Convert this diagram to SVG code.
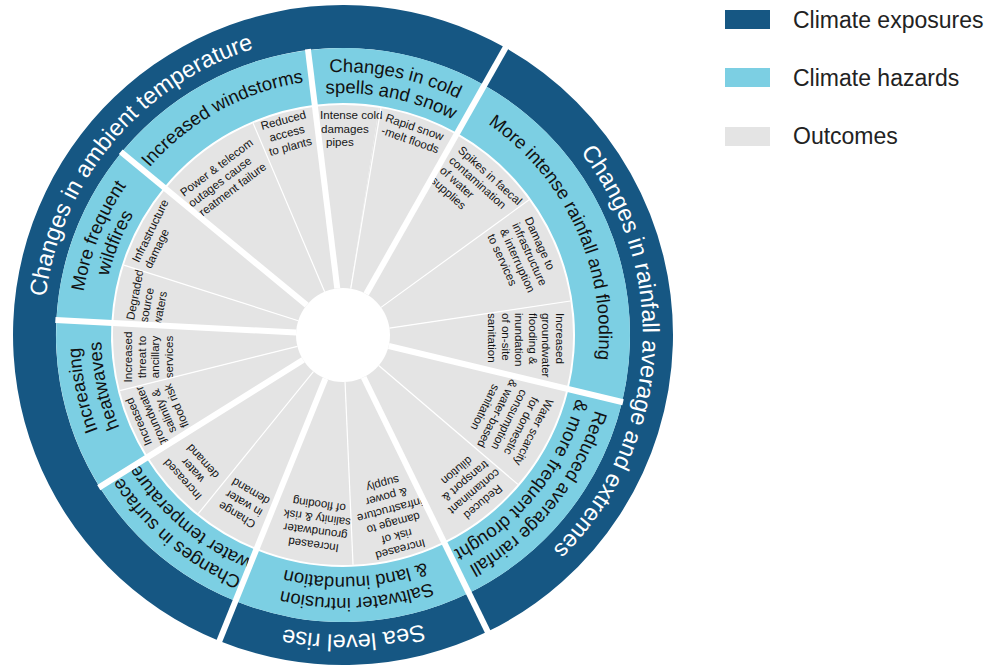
<svg xmlns="http://www.w3.org/2000/svg" width="1002" height="667" viewBox="0 0 1002 667">
  <defs>
    <style>
      .exp { fill: #165783; }
      .haz { fill: #7ccfe3; }
      .out { fill: #e4e4e4; }
      text { font-family: "Liberation Sans", Arial, sans-serif; }
      .lbl-exp { fill: #ffffff; font-size: 23.5px; }
      .lbl-haz { fill: #111111; font-size: 18.5px; }
      .lbl-out { fill: #151515; font-size: 11.6px; }
      .sep-thick { stroke: #ffffff; stroke-width: 6; }
      .sep-thin { stroke: #ffffff; stroke-width: 1.2; }
      .legend-text { fill: #222222; font-size: 23px; }
    </style>
    <!-- baseline arcs centred on 12 o'clock; labels are rotated into place -->
    <path id="arc300" d="M43.05,329.76 A300,300 0 0 1 642.95,329.76"/>
    <path id="arc256" d="M87.04,330.53 A256,256 0 0 1 598.96,330.53"/>
    <path id="arc263" d="M80.04,330.41 A263,263 0 0 1 605.96,330.41"/>
    <path id="arc242" d="M101.04,330.78 A242,242 0 0 1 584.96,330.78"/>
    <line id="cut-exp" x1="343" y1="288" x2="343" y2="3"/>
    <line id="cut-haz" x1="343" y1="288" x2="343" y2="47"/>
    <line id="cut-out" x1="343" y1="288" x2="343" y2="105"/>
  </defs>

  <rect width="1002" height="667" fill="#ffffff"/>

  <!-- outer ring: climate exposures -->
  <g id="exposure-ambient-temperature">
    <path class="exp" d="M219.38,640.97 A330,330 0 1 1 505.50,47.78 L484.32,85.21 A287,287 0 1 0 235.49,601.10 Z"/>
    <text class="lbl-exp" transform="rotate(310 343 335)" text-anchor="middle"><textPath href="#arc300" startOffset="50%">Changes in ambient temperature</textPath></text>
  </g>
  <g id="exposure-rainfall">
    <path class="exp" d="M505.50,47.78 A330,330 0 0 1 487.66,631.60 L468.81,592.95 A287,287 0 0 0 484.32,85.21 Z"/>
    <text class="lbl-exp" transform="rotate(94 343 335)" text-anchor="middle"><textPath href="#arc300" startOffset="50%">Changes in rainfall average and extremes</textPath></text>
  </g>
  <g id="exposure-sea-level">
    <path class="exp" d="M487.66,631.60 A330,330 0 0 1 219.38,640.97 L235.49,601.10 A287,287 0 0 0 468.81,592.95 Z"/>
    <text class="lbl-exp" transform="rotate(178 343 335)" text-anchor="middle"><textPath href="#arc300" startOffset="50%">Sea level rise</textPath></text>
  </g>

  <!-- middle ring: climate hazards -->
  <g id="hazard-windstorms">
    <path class="haz" d="M121.55,152.45 A287,287 0 0 1 308.02,50.14 L314.73,104.73 A232,232 0 0 0 163.98,187.43 Z"/>
    <text class="lbl-haz" transform="rotate(331 343 335)" text-anchor="middle"><textPath href="#arc256" startOffset="50%">Increased windstorms</textPath></text>
  </g>
  <g id="hazard-cold-spells">
    <path class="haz" d="M308.02,50.14 A287,287 0 0 1 484.32,85.21 L457.24,133.08 A232,232 0 0 0 314.73,104.73 Z"/>
    <text class="lbl-haz" transform="rotate(11.5 343 335)" text-anchor="middle"><textPath href="#arc263" startOffset="50%">Changes in cold</textPath></text>
    <text class="lbl-haz" transform="rotate(11.5 343 335)" text-anchor="middle"><textPath href="#arc242" startOffset="50%">spells and snow</textPath></text>
  </g>
  <g id="hazard-intense-rainfall">
    <path class="haz" d="M484.32,85.21 A287,287 0 0 1 622.07,402.00 L568.59,389.16 A232,232 0 0 0 457.24,133.08 Z"/>
    <text class="lbl-haz" transform="rotate(65 343 335)" text-anchor="middle"><textPath href="#arc256" startOffset="50%">More intense rainfall and flooding</textPath></text>
  </g>
  <g id="hazard-drought">
    <path class="haz" d="M622.07,402.00 A287,287 0 0 1 468.81,592.95 L444.70,543.52 A232,232 0 0 0 568.59,389.16 Z"/>
    <text class="lbl-haz" transform="rotate(129 343 335)" text-anchor="middle"><textPath href="#arc263" startOffset="50%">Reduced average rainfall</textPath></text>
    <text class="lbl-haz" transform="rotate(129 343 335)" text-anchor="middle"><textPath href="#arc242" startOffset="50%">&amp; more frequent drought</textPath></text>
  </g>
  <g id="hazard-saltwater">
    <path class="haz" d="M468.81,592.95 A287,287 0 0 1 235.49,601.10 L256.09,550.11 A232,232 0 0 0 444.70,543.52 Z"/>
    <text class="lbl-haz" transform="rotate(177 343 335)" text-anchor="middle"><textPath href="#arc263" startOffset="50%">Saltwater intrusion</textPath></text>
    <text class="lbl-haz" transform="rotate(177 343 335)" text-anchor="middle"><textPath href="#arc242" startOffset="50%">&amp; land inundation</textPath></text>
  </g>
  <g id="hazard-surface-water">
    <path class="haz" d="M235.49,601.10 A287,287 0 0 1 99.61,487.09 L146.25,457.94 A232,232 0 0 0 256.09,550.11 Z"/>
    <text class="lbl-haz" transform="rotate(220 343 335)" text-anchor="middle"><textPath href="#arc263" startOffset="50%">Changes in surface</textPath></text>
    <text class="lbl-haz" transform="rotate(220 343 335)" text-anchor="middle"><textPath href="#arc242" startOffset="50%">water temperature</textPath></text>
  </g>
  <g id="hazard-heatwaves">
    <path class="haz" d="M99.61,487.09 A287,287 0 0 1 56.39,319.98 L111.32,322.86 A232,232 0 0 0 146.25,457.94 Z"/>
    <text class="lbl-haz" transform="rotate(258 343 335)" text-anchor="middle"><textPath href="#arc263" startOffset="50%">Increasing</textPath></text>
    <text class="lbl-haz" transform="rotate(258 343 335)" text-anchor="middle"><textPath href="#arc242" startOffset="50%">heatwaves</textPath></text>
  </g>
  <g id="hazard-wildfires">
    <path class="haz" d="M56.39,319.98 A287,287 0 0 1 121.55,152.45 L163.98,187.43 A232,232 0 0 0 111.32,322.86 Z"/>
    <text class="lbl-haz" transform="rotate(292 343 335)" text-anchor="middle"><textPath href="#arc263" startOffset="50%">More frequent</textPath></text>
    <text class="lbl-haz" transform="rotate(292 343 335)" text-anchor="middle"><textPath href="#arc242" startOffset="50%">wildfires</textPath></text>
  </g>

  <!-- inner ring: outcomes (labels that reach past a divider are drawn after their neighbour) -->
  <g id="outcome-snowmelt-floods">
    <path class="out" d="M343,335 L378.98,107.83 A230,230 0 0 1 456.26,134.82 Z"/>
    <text class="lbl-out" transform="rotate(19 343 335)" text-anchor="middle"><tspan x="343" y="119">Rapid snow</tspan><tspan x="343" dy="13.6">-melt floods</tspan></text>
  </g>
  <g id="outcome-telecom-outages">
    <path class="out" d="M343,335 L165.53,188.70 A230,230 0 0 1 253.13,123.28 Z"/>
    <text class="lbl-out" transform="rotate(-37 343 335)"><tspan x="299" y="129">Power &amp; telecom</tspan><tspan x="299" dy="13.6">outages cause</tspan><tspan x="299" dy="13.6">treatment failure</tspan></text>
  </g>
  <g id="outcome-plant-access">
    <path class="out" d="M343,335 L253.13,123.28 A230,230 0 0 1 314.97,106.71 Z"/>
    <text class="lbl-out" transform="rotate(-15 343 335)" text-anchor="middle"><tspan x="341" y="116">Reduced</tspan><tspan x="341" dy="13.6">access</tspan><tspan x="341" dy="13.6">to plants</tspan></text>
  </g>
  <g id="outcome-pipe-damage">
    <path class="out" d="M343,335 L314.97,106.71 A230,230 0 0 1 378.98,107.83 Z"/>
    <text class="lbl-out"><tspan x="320" y="119">Intense cold</tspan><tspan x="321" dy="13.6">damages</tspan><tspan x="326" dy="13.6">pipes</tspan></text>
  </g>
  <g id="outcome-service-interruption">
    <path class="out" d="M343,335 L529.08,199.91 A230,230 0 0 1 570.47,301.00 Z"/>
    <text class="lbl-out" transform="rotate(65.5 343 335)"><tspan x="313" y="122">Damage to</tspan><tspan x="313" dy="13.6">infrastructure</tspan><tspan x="313" dy="13.6">&amp; interruption</tspan><tspan x="313" dy="13.6">to services</tspan></text>
  </g>
  <g id="outcome-faecal-contamination">
    <path class="out" d="M343,335 L456.26,134.82 A230,230 0 0 1 529.08,199.91 Z"/>
    <text class="lbl-out" transform="rotate(42 343 335)"><tspan x="305" y="122">Spikes in faecal</tspan><tspan x="305" dy="13.6">contamination</tspan><tspan x="305" dy="13.6">of water</tspan><tspan x="305" dy="13.6">supplies</tspan></text>
  </g>
  <g id="outcome-groundwater-flooding">
    <path class="out" d="M343,335 L570.47,301.00 A230,230 0 0 1 566.65,388.69 Z"/>
    <text class="lbl-out" transform="rotate(90 343 335)"><tspan x="321" y="122">Increased</tspan><tspan x="321" dy="13.6">groundwater</tspan><tspan x="321" dy="13.6">flooding &amp;</tspan><tspan x="321" dy="13.6">inundation</tspan><tspan x="321" dy="13.6">of on-site</tspan><tspan x="321" dy="13.6">sanitation</tspan></text>
  </g>
  <g id="outcome-water-scarcity">
    <path class="out" d="M343,335 L566.65,388.69 A230,230 0 0 1 517.89,484.37 Z"/>
    <text class="lbl-out" transform="rotate(117 343 335)" text-anchor="middle"><tspan x="343" y="125">Water scarcity</tspan><tspan x="343" dy="13.6">for domestic</tspan><tspan x="343" dy="13.6">consumption</tspan><tspan x="343" dy="13.6">&amp; water-based</tspan><tspan x="343" dy="13.6">sanitation</tspan></text>
  </g>
  <g id="outcome-reduced-dilution">
    <path class="out" d="M343,335 L517.89,484.37 A230,230 0 0 1 443.83,541.72 Z"/>
    <text class="lbl-out" transform="rotate(140 343 335)" text-anchor="middle"><tspan x="343" y="121">Reduced</tspan><tspan x="343" dy="13.6">contaminant</tspan><tspan x="343" dy="13.6">transport &amp;</tspan><tspan x="343" dy="13.6">dilution</tspan></text>
  </g>
  <g id="outcome-infrastructure-risk">
    <path class="out" d="M343,335 L443.83,541.72 A230,230 0 0 1 353.03,564.78 Z"/>
    <text class="lbl-out" transform="rotate(165 343 335)" text-anchor="middle"><tspan x="343" y="117">Increased</tspan><tspan x="343" dy="13.6">risk of</tspan><tspan x="343" dy="13.6">damage to</tspan><tspan x="343" dy="13.6">infrastructure</tspan><tspan x="343" dy="13.6">&amp; power</tspan><tspan x="343" dy="13.6">supply</tspan></text>
  </g>
  <g id="outcome-salinity-flooding">
    <path class="out" d="M343,335 L353.03,564.78 A230,230 0 0 1 256.84,548.25 Z"/>
    <text class="lbl-out" transform="rotate(188 343 335)" text-anchor="middle"><tspan x="343" y="127">Increased</tspan><tspan x="343" dy="13.6">groundwater</tspan><tspan x="343" dy="13.6">salinity &amp; risk</tspan><tspan x="343" dy="13.6">of flooding</tspan></text>
  </g>
  <g id="outcome-change-demand">
    <path class="out" d="M343,335 L256.84,548.25 A230,230 0 0 1 198.26,513.74 Z"/>
    <text class="lbl-out" transform="rotate(210.5 343 335)" text-anchor="middle"><tspan x="343" y="130">Change</tspan><tspan x="343" dy="13.6">in water</tspan><tspan x="343" dy="13.6">demand</tspan></text>
  </g>
  <g id="outcome-increased-demand">
    <path class="out" d="M343,335 L198.26,513.74 A230,230 0 0 1 147.95,456.88 Z"/>
    <text class="lbl-out" transform="rotate(228 343 335)" text-anchor="middle"><tspan x="343" y="123">Increased</tspan><tspan x="343" dy="13.6">water</tspan><tspan x="343" dy="13.6">demand</tspan></text>
  </g>
  <g id="outcome-ancillary-services">
    <path class="out" d="M343,335 L119.83,390.64 A230,230 0 0 1 113.32,322.96 Z"/>
    <text class="lbl-out" transform="rotate(270 343 335)" text-anchor="middle"><tspan x="321" y="124">Increased</tspan><tspan x="321" dy="13.6">threat to</tspan><tspan x="321" dy="13.6">ancillary</tspan><tspan x="321" dy="13.6">services</tspan></text>
  </g>
  <g id="outcome-salinity-flood-risk">
    <path class="out" d="M343,335 L147.95,456.88 A230,230 0 0 1 119.83,390.64 Z"/>
    <text class="lbl-out" transform="rotate(247 343 335)" text-anchor="middle"><tspan x="343" y="117">Increased</tspan><tspan x="343" dy="13.6">groundwater</tspan><tspan x="343" dy="13.6">salinity &amp;</tspan><tspan x="343" dy="13.6">flood risk</tspan></text>
  </g>
  <g id="outcome-infrastructure-damage">
    <path class="out" d="M343,335 L123.89,265.07 A230,230 0 0 1 165.53,188.70 Z"/>
    <text class="lbl-out" transform="rotate(296 343 335)"><tspan x="318" y="120">Infrastructure</tspan><tspan x="318" dy="13.6">damage</tspan></text>
  </g>
  <g id="outcome-source-waters">
    <path class="out" d="M343,335 L113.32,322.96 A230,230 0 0 1 123.89,265.07 Z"/>
    <text class="lbl-out" transform="rotate(280.7 343 335)"><tspan x="318.5" y="127">Degraded</tspan><tspan x="318.5" dy="13.6">source</tspan><tspan x="318.5" dy="13.6">waters</tspan></text>
  </g>

  <!-- white dividers between sectors -->
  <g id="dividers">
    <use href="#cut-exp" class="sep-thick" transform="rotate(29.5 343 335)"/>
    <use href="#cut-exp" class="sep-thick" transform="rotate(154 343 335)"/>
    <use href="#cut-exp" class="sep-thick" transform="rotate(202 343 335)"/>
    <use href="#cut-haz" class="sep-thick" transform="rotate(103.5 343 335)"/>
    <use href="#cut-haz" class="sep-thick" transform="rotate(238 343 335)"/>
    <use href="#cut-haz" class="sep-thick" transform="rotate(273 343 335)"/>
    <use href="#cut-haz" class="sep-thick" transform="rotate(309.5 343 335)"/>
    <use href="#cut-haz" class="sep-thick" transform="rotate(353 343 335)"/>
    <use href="#cut-out" class="sep-thin" transform="rotate(9.5 343 335)"/>
    <use href="#cut-out" class="sep-thin" transform="rotate(54 343 335)"/>
    <use href="#cut-out" class="sep-thin" transform="rotate(81.5 343 335)"/>
    <use href="#cut-out" class="sep-thin" transform="rotate(130.5 343 335)"/>
    <use href="#cut-out" class="sep-thin" transform="rotate(177.5 343 335)"/>
    <use href="#cut-out" class="sep-thin" transform="rotate(219 343 335)"/>
    <use href="#cut-out" class="sep-thin" transform="rotate(256 343 335)"/>
    <use href="#cut-out" class="sep-thin" transform="rotate(287.7 343 335)"/>
    <use href="#cut-out" class="sep-thin" transform="rotate(337 343 335)"/>
  </g>

  <circle id="hub" cx="343" cy="335" r="47" fill="#ffffff"/>

  <g id="legend">
    <rect x="725" y="10" width="45" height="19" class="exp"/>
    <text class="legend-text" x="793" y="28">Climate exposures</text>
    <rect x="725" y="68" width="45" height="19" class="haz"/>
    <text class="legend-text" x="793" y="86">Climate hazards</text>
    <rect x="725" y="127" width="45" height="19" class="out"/>
    <text class="legend-text" x="793" y="144">Outcomes</text>
  </g>
</svg>
